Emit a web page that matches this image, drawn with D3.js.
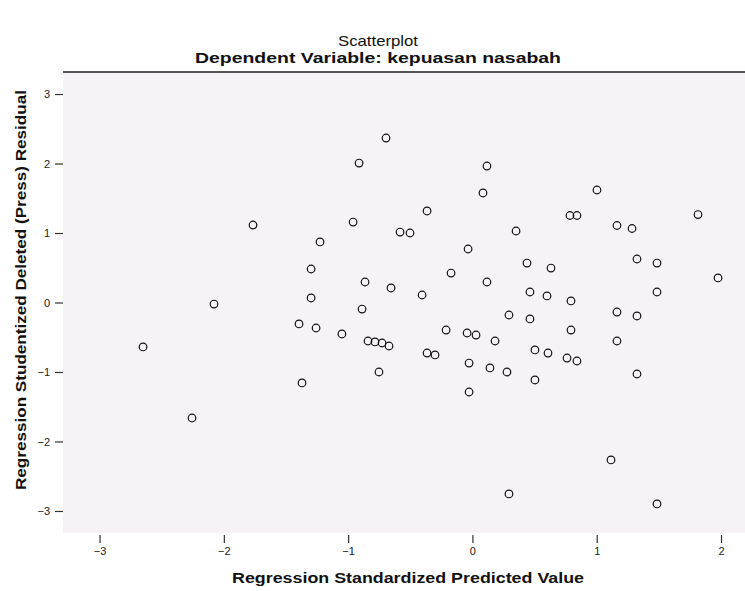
<!DOCTYPE html>
<html>
<head>
<meta charset="utf-8">
<script src="https://cdn.jsdelivr.net/npm/d3@7"></script>
<style>
  html, body { margin: 0; padding: 0; background: #ffffff; }
  svg { display: block; }
  text { font-family: "Liberation Sans", Arial, sans-serif; }
</style>
</head>
<body>
<svg id="chart" width="745" height="591"></svg>
<script>
// Regression standardized predicted value (x) and studentized deleted residual (y)
const predicted = [
  -0.695, -0.912, 0.117, 1.002, 0.085, -0.365, -0.960, -1.765, 1.815, 0.785,
  0.841, 1.163, 1.284, 0.351, -0.582, -0.502, -1.226, -0.035, 1.324, 0.439,
  1.485, 0.632, -1.298, -0.172, 1.976, 0.117, -0.864, -0.655, 0.463, 1.485,
  -0.405, 0.600, -1.298, -2.079, 0.793, -0.888, 0.294, 1.163, 1.324, 0.463,
  -1.395, -1.258, -0.212, 0.793, -1.050, -0.043, 0.029, 0.182, 1.163, -0.840,
  -0.784, -0.727, -0.671, -2.650, -0.365, -0.301, 0.503, 0.608, 0.761, 0.841,
  -0.027, 0.141, 0.278, -0.752, 1.324, 0.503, -1.371, -0.027, -2.256, 1.115,
  0.294, 1.485
];
const residual = [
  2.367, 2.007, 1.964, 1.619, 1.576, 1.317, 1.158, 1.115, 1.266, 1.252,
  1.252, 1.108, 1.065, 1.029, 1.014, 1.000, 0.871, 0.770, 0.626, 0.568,
  0.568, 0.496, 0.482, 0.424, 0.353, 0.295, 0.295, 0.209, 0.151, 0.151,
  0.108, 0.094, 0.065, -0.022, 0.022, -0.094, -0.180, -0.137, -0.194, -0.237,
  -0.309, -0.367, -0.396, -0.396, -0.453, -0.439, -0.468, -0.554, -0.554, -0.554,
  -0.568, -0.583, -0.626, -0.640, -0.727, -0.755, -0.683, -0.727, -0.799, -0.842,
  -0.871, -0.942, -1.000, -1.000, -1.029, -1.115, -1.158, -1.288, -1.662, -2.266,
  -2.755, -2.899
];
const xTicks = [-3, -2, -1, 0, 1, 2];
const yTicks = [-3, -2, -1, 0, 1, 2, 3];
const xDomain = [-3.294, 2.193];
const yDomain = [-3.317, 3.317];

const svg = d3.select("#chart");
const plot = { left: 63, right: 745, top: 72, bottom: 533 };

const x = d3.scaleLinear().domain(xDomain).range([plot.left, plot.right]);
const y = d3.scaleLinear().domain(yDomain).range([plot.bottom, plot.top]);

// plot background
svg.append("rect")
  .attr("x", plot.left).attr("y", plot.top)
  .attr("width", plot.right - plot.left).attr("height", plot.bottom - plot.top)
  .attr("fill", "#f6f2f6");

// top border line
svg.append("line")
  .attr("x1", plot.left).attr("x2", plot.right)
  .attr("y1", plot.top).attr("y2", plot.top)
  .attr("stroke", "#555").attr("stroke-width", 2);

// axes
const yAxis = d3.axisLeft(y).tickValues(yTicks).tickSize(8).tickPadding(5)
  .tickFormat(d3.format("d"));
const gy = svg.append("g").attr("transform", `translate(${plot.left},0)`).call(yAxis);
gy.select(".domain").remove();

const xAxis = d3.axisBottom(x).tickValues(xTicks).tickSize(8).tickPadding(4)
  .tickFormat(d3.format("d"));
const gx = svg.append("g").attr("transform", `translate(0,${plot.bottom + 2})`).call(xAxis);
gx.select(".domain").remove();

[gx, gy].forEach(g => {
  g.selectAll(".tick line").attr("stroke", "#333").attr("stroke-width", 1.2);
  g.selectAll(".tick text").attr("fill", "#222").style("font-size", "11px")
    .style("font-family", "'Liberation Sans', Arial, sans-serif");
});

// points
svg.append("g").selectAll("circle")
  .data(predicted.map((p, i) => ({ p, r: residual[i] })))
  .join("circle")
  .attr("cx", d => x(d.p))
  .attr("cy", d => y(d.r))
  .attr("r", 3.8)
  .attr("fill", "none")
  .attr("stroke", "#111")
  .attr("stroke-width", 1.2);

// titles
svg.append("text").attr("x", 378).attr("y", 46).attr("text-anchor", "middle")
  .style("font-size", "15px").attr("fill", "#111")
  .attr("textLength", 80).attr("lengthAdjust", "spacingAndGlyphs")
  .text("Scatterplot");
svg.append("text").attr("x", 378).attr("y", 63).attr("text-anchor", "middle")
  .style("font-size", "15px").style("font-weight", "bold").attr("fill", "#111")
  .attr("textLength", 366).attr("lengthAdjust", "spacingAndGlyphs")
  .text("Dependent Variable: kepuasan nasabah");

// axis labels
svg.append("text").attr("x", 408).attr("y", 583).attr("text-anchor", "middle")
  .style("font-size", "14px").style("font-weight", "bold").attr("fill", "#111")
  .attr("textLength", 352).attr("lengthAdjust", "spacingAndGlyphs")
  .text("Regression Standardized Predicted Value");
svg.append("text")
  .attr("transform", "translate(26,290) rotate(-90)")
  .attr("text-anchor", "middle")
  .style("font-size", "14px").style("font-weight", "bold").attr("fill", "#111")
  .attr("textLength", 400).attr("lengthAdjust", "spacingAndGlyphs")
  .text("Regression Studentized Deleted (Press) Residual");
</script>
</body>
</html>
